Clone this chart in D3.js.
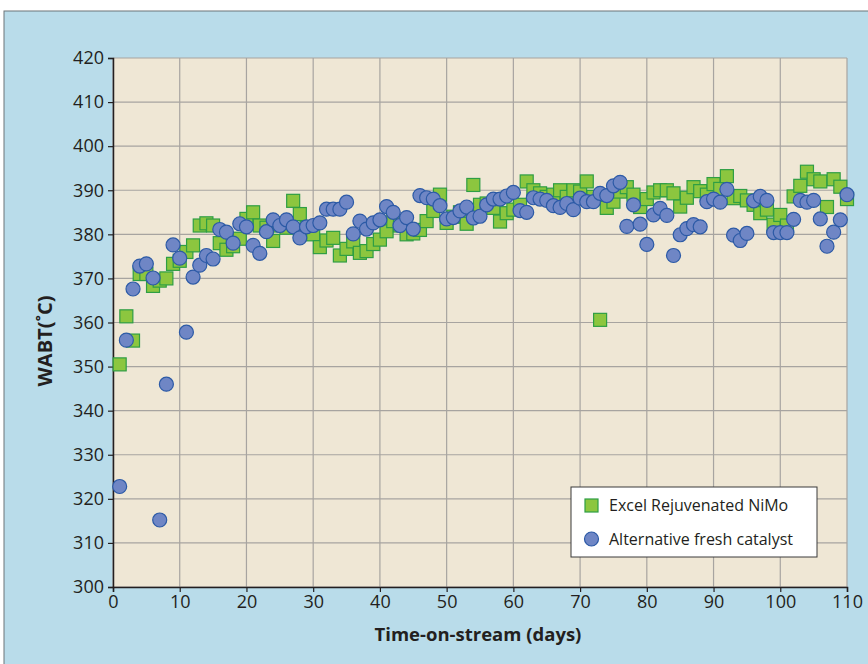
<!DOCTYPE html>
<html>
<head>
<meta charset="utf-8">
<script src="https://cdn.jsdelivr.net/npm/d3@7"></script>
<style>
  body { margin: 0; background: #fff; }
  svg { display: block; font-family: "Open Sans", sans-serif; }
</style>
</head>
<body>
<svg id="chart" width="868" height="664"></svg>
<script>
// days on stream (x) for both series
const days = [1,2,3,4,5,6,7,8,9,10,11,12,13,14,15,16,17,18,19,20,
  21,22,23,24,25,26,27,28,29,30,31,32,33,34,35,36,37,38,39,40,
  41,42,43,44,45,46,47,48,49,50,51,52,53,54,55,56,57,58,59,60,
  61,62,63,64,65,66,67,68,69,70,71,72,73,74,75,76,77,78,79,80,
  81,82,83,84,85,86,87,88,89,90,91,92,93,94,95,96,97,98,99,100,
  101,102,103,104,105,106,107,108,109,110];

// Excel Rejuvenated NiMo - WABT
const rejuvenated = [350.5,361.4,355.9,371,371,368.3,369.5,370,373.3,374,
  376,377.5,382,382.5,382,378,376.5,377.3,379,383.5,
  385,382,381.5,378.5,382,381.5,387.6,384.6,381.5,380,
  377.1,378.6,379.2,375.2,376.7,378.4,375.8,376.2,377.8,378.8,
  380.7,383,382,380,380.2,381,383,385.3,389,382.6,
  384,385,382.4,391.2,386.7,387,386,382.9,384.8,385.6,
  386.7,392,390,389.3,388.5,389,390,388.5,390,389.7,
  392,388.5,360.6,386,387.4,389.7,390.7,389,386.2,388,
  389.5,390,390,389.3,386.3,388.3,390.7,389.8,389,391.4,
  390.3,393.2,388.2,388.7,387.7,386.7,384.8,385.6,382.2,384.4,
  382,388.6,391,394.2,392.5,392,386.2,392.5,390.8,388];

// Alternative fresh catalyst - WABT
const fresh = [322.8,356,367.6,372.8,373.3,370.1,315.2,346,377.6,374.6,
  357.8,370.3,373,375.2,374.4,381.1,380.5,378,382.4,381.7,
  377.5,375.7,380.6,383.3,382,383.3,381.7,379.2,381.7,382,
  382.6,385.7,385.7,385.7,387.3,380.1,383,381.2,382.6,383.3,
  386.3,385,382,383.8,381.2,388.8,388.3,388,386.5,383.5,
  383.8,385.3,386.2,383.7,384.1,386.7,388,388,388.7,389.5,
  385.4,385,388.3,388,387.7,386.5,386.1,387,385.6,388.2,
  387.4,387.4,389.3,388.8,391,391.8,381.8,386.7,382.3,377.7,
  384.4,385.9,384.3,375.2,379.9,381.3,382.2,381.7,387.4,388,
  387.3,390.2,379.8,378.6,380.2,387.6,388.6,387.7,380.4,380.4,
  380.4,383.4,387.7,387.3,387.7,383.5,377.3,380.5,383.3,389];

const xTicks = [0,10,20,30,40,50,60,70,80,90,100,110];
const yTicks = [300,310,320,330,340,350,360,370,380,390,400,410,420];
const seriesNames = ["Excel Rejuvenated NiMo", "Alternative fresh catalyst"];

const svg = d3.select("#chart");

// panel background
svg.append("rect")
  .attr("x", 4).attr("y", 11)
  .attr("width", 870).attr("height", 660)
  .attr("fill", "#b9dcea")
  .attr("stroke", "#6d7478").attr("stroke-width", 1);

const margin = {top: 58, left: 113},
  width = 734, height = 529;

const x = d3.scaleLinear().domain([0, 110]).range([0, width]);
const y = d3.scaleLinear().domain([300, 420]).range([height, 0]);

const g = svg.append("g")
  .attr("transform", "translate(" + margin.left + "," + margin.top + ")");

g.append("rect")
  .attr("width", width).attr("height", height)
  .attr("fill", "#efe7d5");

// grid
g.append("g").selectAll("line").data(yTicks).enter().append("line")
  .attr("x1", 0).attr("x2", width)
  .attr("y1", d => y(d)).attr("y2", d => y(d))
  .attr("stroke", "#a7a4a0").attr("stroke-width", 1.2);

g.append("g").selectAll("line").data(xTicks).enter().append("line")
  .attr("y1", 0).attr("y2", height)
  .attr("x1", d => x(d)).attr("x2", d => x(d))
  .attr("stroke", "#a7a4a0").attr("stroke-width", 1.2);

// axes
const xAxis = g.append("g")
  .attr("transform", "translate(0," + height + ")")
  .call(d3.axisBottom(x).tickValues(xTicks).tickSize(5).tickPadding(3));

const yAxis = g.append("g")
  .call(d3.axisLeft(y).tickValues(yTicks).tickSize(5).tickPadding(4));

[xAxis, yAxis].forEach(a => {
  a.select(".domain").attr("stroke", "#231f20").attr("stroke-width", 1.5);
  a.selectAll(".tick line").attr("stroke", "#231f20").attr("stroke-width", 1.2);
  a.selectAll(".tick text")
    .attr("fill", "#231f20")
    .style("font-size", "18px")
    .style("font-family", "'Open Sans', sans-serif");
});

// series
const greenPts = days.map((d, i) => ({day: d, v: rejuvenated[i]}));
const bluePts = days.map((d, i) => ({day: d, v: fresh[i]}));
const sq = 13;

g.append("g").selectAll("rect").data(greenPts).enter().append("rect")
  .attr("x", d => x(d.day) - sq / 2)
  .attr("y", d => y(d.v) - sq / 2)
  .attr("width", sq).attr("height", sq)
  .attr("fill", "#8cc63f")
  .attr("stroke", "#2e9e44").attr("stroke-width", 1.2);

g.append("g").selectAll("circle").data(bluePts).enter().append("circle")
  .attr("cx", d => x(d.day))
  .attr("cy", d => y(d.v))
  .attr("r", 7)
  .attr("fill", "#6f86c5")
  .attr("stroke", "#2c5aa6").attr("stroke-width", 1.2);

// legend
const leg = svg.append("g").attr("transform", "translate(571,487)");
leg.append("rect")
  .attr("width", 246).attr("height", 70)
  .attr("fill", "#fff")
  .attr("stroke", "#3a3a3a").attr("stroke-width", 1);
leg.append("rect")
  .attr("x", 14).attr("y", 12).attr("width", 13).attr("height", 13)
  .attr("fill", "#8cc63f").attr("stroke", "#2e9e44").attr("stroke-width", 1.2);
leg.append("circle")
  .attr("cx", 20.5).attr("cy", 52).attr("r", 7)
  .attr("fill", "#6f86c5").attr("stroke", "#2c5aa6").attr("stroke-width", 1.2);
leg.selectAll("text.lbl").data(seriesNames).enter().append("text")
  .attr("class", "lbl")
  .attr("x", 38)
  .attr("y", (d, i) => 24 + i * 34)
  .attr("fill", "#231f20")
  .style("font-size", "16px")
  .text(d => d);

// axis titles
svg.append("text")
  .attr("x", 478).attr("y", 641)
  .attr("text-anchor", "middle")
  .attr("fill", "#231f20")
  .style("font-size", "18.5px").style("font-weight", "bold")
  .text("Time-on-stream (days)");

svg.append("text")
  .attr("transform", "translate(52,341) rotate(-90)")
  .attr("text-anchor", "middle")
  .attr("fill", "#231f20")
  .style("font-size", "20px").style("font-weight", "bold")
  .text("WABT(˚C)");
</script>
</body>
</html>
